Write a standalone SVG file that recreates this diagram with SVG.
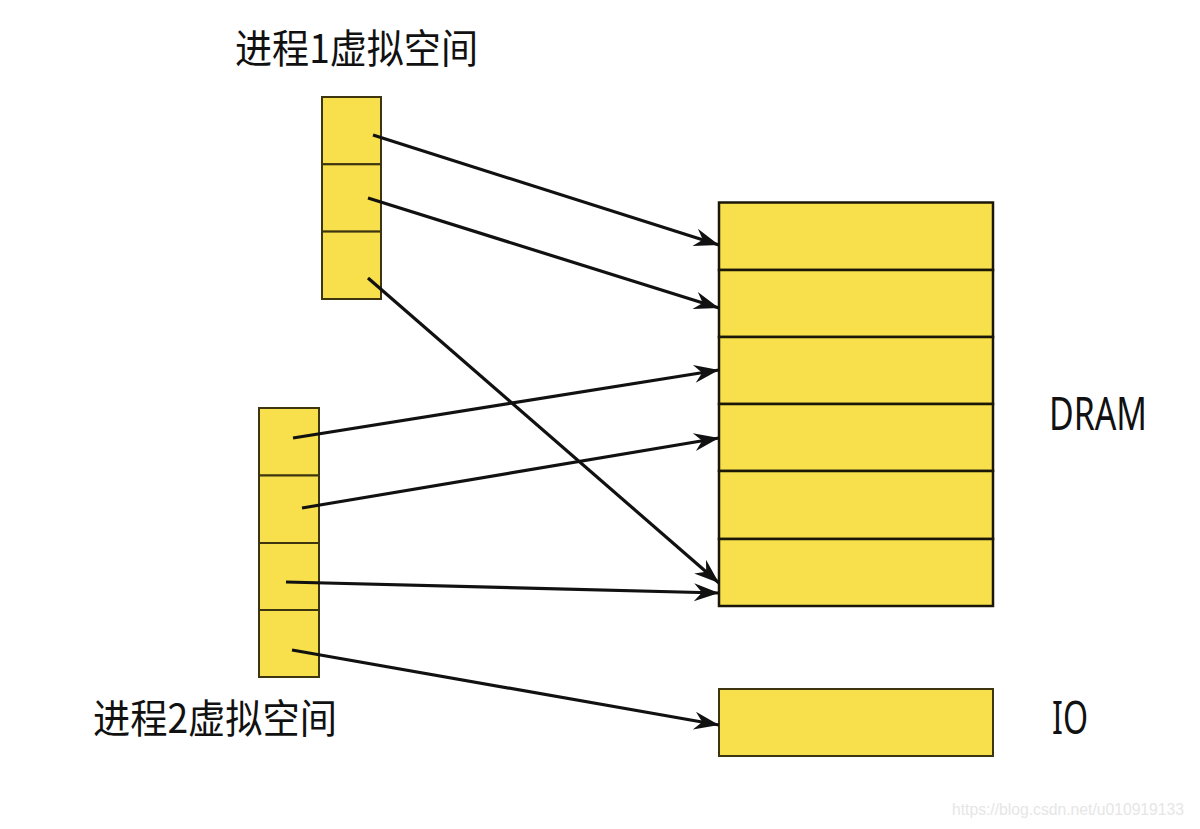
<svg xmlns="http://www.w3.org/2000/svg" width="1200" height="829" viewBox="0 0 1200 829">
<style>
.cell{fill:#f7e04b;stroke:#3d3410;stroke-width:2}
.dram{fill:#f7e04b;stroke:#1a1608;stroke-width:2.5}
.conn{stroke:#111;stroke-width:3.2;fill:none;marker-end:url(#ah)}
.cjk{font-family:"Noto Sans CJK SC","Noto Sans",sans-serif;font-size:40px;fill:#111}
.lbl{font-family:"Noto Sans","Open Sans",sans-serif;font-size:46px;fill:#111}
.wm{font-family:"Liberation Sans",Arial,sans-serif;font-size:16px;fill:#e6e6e6}
</style>
<defs>
<marker id="ah" markerUnits="userSpaceOnUse" markerWidth="30" markerHeight="22" viewBox="-26 -11 28 22" refX="0" refY="0" orient="auto">
<path d="M0,0 L-25,-9 L-17,0 L-25,9 Z" fill="#111"/>
</marker>
</defs>
<rect width="1200" height="829" fill="#fff"/>
<g id="p1">
<rect class="cell" x="322" y="97" width="59" height="67.3"/>
<rect class="cell" x="322" y="164.3" width="59" height="67.3"/>
<rect class="cell" x="322" y="231.6" width="59" height="67.4"/>
</g>
<g id="p2">
<rect class="cell" x="259" y="408" width="60" height="67.5"/>
<rect class="cell" x="259" y="475.5" width="60" height="67.5"/>
<rect class="cell" x="259" y="543" width="60" height="67"/>
<rect class="cell" x="259" y="610" width="60" height="67"/>
</g>
<g id="dram">
<rect class="dram" x="719" y="202.5" width="274" height="67.5"/>
<rect class="dram" x="719" y="270" width="274" height="67"/>
<rect class="dram" x="719" y="337" width="274" height="67"/>
<rect class="dram" x="719" y="404" width="274" height="67"/>
<rect class="dram" x="719" y="471" width="274" height="68"/>
<rect class="dram" x="719" y="539" width="274" height="67"/>
</g>
<g id="io">
<rect class="cell" x="719" y="689" width="274" height="67"/>
</g>
<g id="connectors">
<line class="conn" x1="373" y1="135" x2="719" y2="245"/>
<line class="conn" x1="368" y1="198" x2="719" y2="308"/>
<line class="conn" x1="368" y1="278" x2="719" y2="583"/>
<line class="conn" x1="293" y1="438" x2="719" y2="370"/>
<line class="conn" x1="302" y1="508" x2="719" y2="438"/>
<line class="conn" x1="286" y1="582" x2="719" y2="593"/>
<line class="conn" x1="292" y1="650" x2="719" y2="725"/>
</g>
<g id="labels">
<text class="cjk" x="235" y="63" textLength="243" lengthAdjust="spacingAndGlyphs">进程1虚拟空间</text>
<text class="cjk" x="93" y="733" textLength="244" lengthAdjust="spacingAndGlyphs">进程2虚拟空间</text>
<text class="lbl" x="1049" y="430" textLength="98" lengthAdjust="spacingAndGlyphs">DRAM</text>
<text class="lbl" x="1052" y="734" textLength="36" lengthAdjust="spacingAndGlyphs">IO</text>
<text class="wm" x="952" y="815" textLength="232" lengthAdjust="spacingAndGlyphs">https://blog.csdn.net/u010919133</text>
</g>
</svg>
